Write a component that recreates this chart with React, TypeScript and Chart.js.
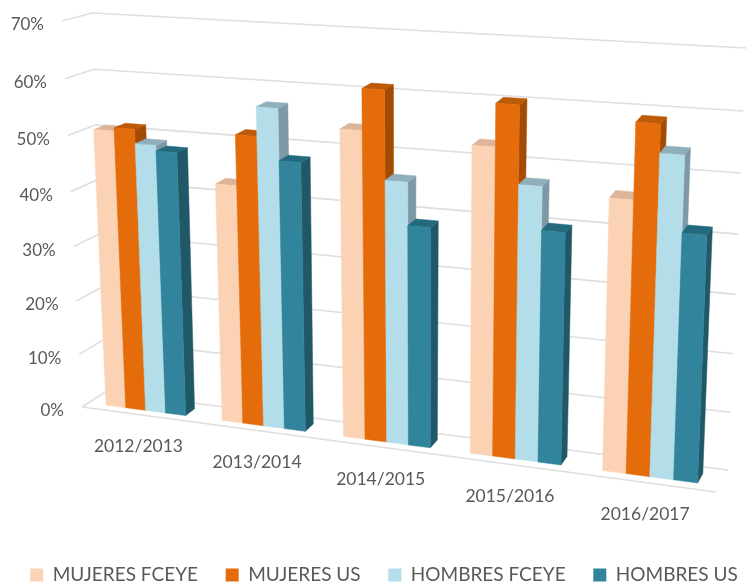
import React, { useEffect, useRef } from "react";
import { Chart, registerables } from "chart.js";

Chart.register(...registerables);

const categories = ["2012/2013", "2013/2014", "2014/2015", "2015/2016", "2016/2017"];
const seriesNames = ["MUJERES FCEYE", "MUJERES US", "HOMBRES FCEYE", "HOMBRES US"];
const mujeresFceye = [50.8, 43, 54.3, 53.3, 46.5];
const mujeresUs = [51.4, 51.9, 61.4, 60.5, 59.1];
const hombresFceye = [48.9, 57, 46.2, 47.4, 54.4];
const hombresUs = [47.9, 48, 38.8, 40.1, 41.8];
const frontColors = ["#FBD2B4", "#E46C0A", "#B3DDE9", "#31849B"];
const topColors = ["#DDB598", "#BC5A08", "#8FAFBA", "#236A7E"];
const sideColors = ["#C9A58C", "#A34A03", "#7E99A5", "#205867"];

type P = [number, number];
const BACK: P[] = [[105, 392], [728, 470], [746, 48], [92, 13]];
const FRONT: P[] = [[82, 407], [716, 492], [733, 64], [62, 21]];
const BAR_FRONT_T = 0.72;
const BAR_BACK_T = 0.3;

function homography(q: P[]) {
  const [[x0, y0], [x1, y1], [x2, y2], [x3, y3]] = q;
  const dx1 = x1 - x2, dx2 = x3 - x2, sx = x0 - x1 + x2 - x3;
  const dy1 = y1 - y2, dy2 = y3 - y2, sy = y0 - y1 + y2 - y3;
  const den = dx1 * dy2 - dx2 * dy1;
  const g = (sx * dy2 - dx2 * sy) / den;
  const h = (dx1 * sy - sx * dy1) / den;
  const a = x1 - x0 + g * x1, b = x3 - x0 + h * x3;
  const d = y1 - y0 + g * y1, e = y3 - y0 + h * y3;
  return (u: number, v: number): P => {
    const w = g * u + h * v + 1;
    return [(a * u + b * v + x0) / w, (d * u + e * v + y0) / w];
  };
}

function plane(t: number) {
  return homography(BACK.map((b, i) => [b[0] + (FRONT[i][0] - b[0]) * t, b[1] + (FRONT[i][1] - b[1]) * t] as P));
}

function poly(ctx: CanvasRenderingContext2D, pts: P[], color: string) {
  ctx.beginPath();
  pts.forEach((p, i) => (i ? ctx.lineTo(p[0], p[1]) : ctx.moveTo(p[0], p[1])));
  ctx.closePath();
  ctx.fillStyle = color;
  ctx.strokeStyle = color;
  ctx.lineWidth = 0.5;
  ctx.fill();
  ctx.stroke();
}

const perspectivePlugin = {
  id: "perspective",
  afterLayout(chart: any) {
    const lg = chart.legend;
    const pad = lg.options.labels.padding;
    const h = lg.bottom - lg.top;
    lg.top = 575 - 9.5 - pad;
    lg.bottom = lg.top + h;
    lg.left -= 6;
    lg.right -= 6;
  },
  beforeDatasetsDraw(chart: any) {
    const { ctx, chartArea: ca, scales } = chart;
    const norm = (px: number, py: number): P => [
      (px - ca.left) / (ca.right - ca.left),
      (ca.bottom - py) / (ca.bottom - ca.top),
    ];
    const back = plane(0), front = plane(1), barF = plane(BAR_FRONT_T), barB = plane(BAR_BACK_T);
    const yS = scales.y, xS = scales.x;

    ctx.save();
    ctx.lineWidth = 1.6;
    ctx.strokeStyle = "#DEDEDE";
    yS.ticks.forEach((tick: any) => {
      const v = norm(ca.left, yS.getPixelForValue(tick.value))[1];
      const a = front(0, v), b = back(0, v), c = back(1, v);
      ctx.beginPath();
      ctx.moveTo(a[0], a[1]);
      ctx.lineTo(b[0], b[1]);
      ctx.lineTo(c[0], c[1]);
      ctx.stroke();
    });
    const f0 = front(0, 0), f1 = front(1, 0);
    ctx.beginPath();
    ctx.moveTo(f0[0], f0[1]);
    ctx.lineTo(f1[0], f1[1]);
    ctx.stroke();

    ctx.fillStyle = "#595959";
    ctx.font = "17px Lato";
    ctx.textAlign = "right";
    ctx.textBaseline = "middle";
    yS.ticks.forEach((tick: any) => {
      const v = norm(ca.left, yS.getPixelForValue(tick.value))[1];
      const p = front(0, v);
      ctx.fillText(String(tick.label), p[0] - 18, p[1] + 4);
    });
    ctx.font = "17.5px Lato";
    ctx.textAlign = "center";
    categories.forEach((label, i) => {
      const u = norm(xS.getPixelForValue(i), ca.bottom)[0];
      const p = front(u, 0);
      ctx.fillText(label, p[0] - 1, p[1] + 32);
    });

    categories.forEach((_, i) => {
      chart.data.datasets.forEach((_d: any, di: number) => {
        const el = chart.getDatasetMeta(di).data[i];
        const [ul, v1] = norm(el.x - el.width / 2, el.y);
        const [ur, v0] = norm(el.x + el.width / 2, el.base);
        const fbl = barF(ul, v0), fbr = barF(ur, v0), ftr = barF(ur, v1), ftl = barF(ul, v1);
        const bbr = barB(ur, v0), btr = barB(ur, v1), btl = barB(ul, v1);
        poly(ctx, [fbr, bbr, btr, ftr], sideColors[di]);
        poly(ctx, [ftl, ftr, btr, btl], topColors[di]);
        poly(ctx, [fbl, fbr, ftr, ftl], frontColors[di]);
      });
    });
    ctx.restore();
    return false;
  },
};

export default function App() {
  const ref = useRef<HTMLCanvasElement | null>(null);
  useEffect(() => {
    const values = [mujeresFceye, mujeresUs, hombresFceye, hombresUs];
    const chart = new Chart(ref.current as HTMLCanvasElement, {
      type: "bar",
      data: {
        labels: categories,
        datasets: seriesNames.map((label, i) => ({
          label,
          data: values[i],
          backgroundColor: frontColors[i],
          borderWidth: 0,
          categoryPercentage: 0.69,
          barPercentage: 1,
        })),
      },
      options: {
        responsive: false,
        animation: false,
        layout: { padding: 0 },
        scales: {
          x: { display: false },
          y: {
            display: false,
            min: 0,
            max: 70,
            ticks: { stepSize: 10, callback: (v: any) => v + "%" },
          },
        },
        plugins: {
          tooltip: { enabled: false },
          legend: {
            position: "bottom",
            labels: {
              boxWidth: 13,
              boxHeight: 13,
              padding: 27.7,
              color: "#595959",
              font: { family: "Lato", size: 19 },
            },
          },
        },
      },
      plugins: [perspectivePlugin],
    } as any);
    return () => chart.destroy();
  }, []);
  return (
    <div style={{ position: "absolute", left: 0, top: 0, width: 746, height: 583, overflow: "hidden" }}>
      <canvas ref={ref} width={780} height={583} style={{ display: "block" }} />
    </div>
  );
}
